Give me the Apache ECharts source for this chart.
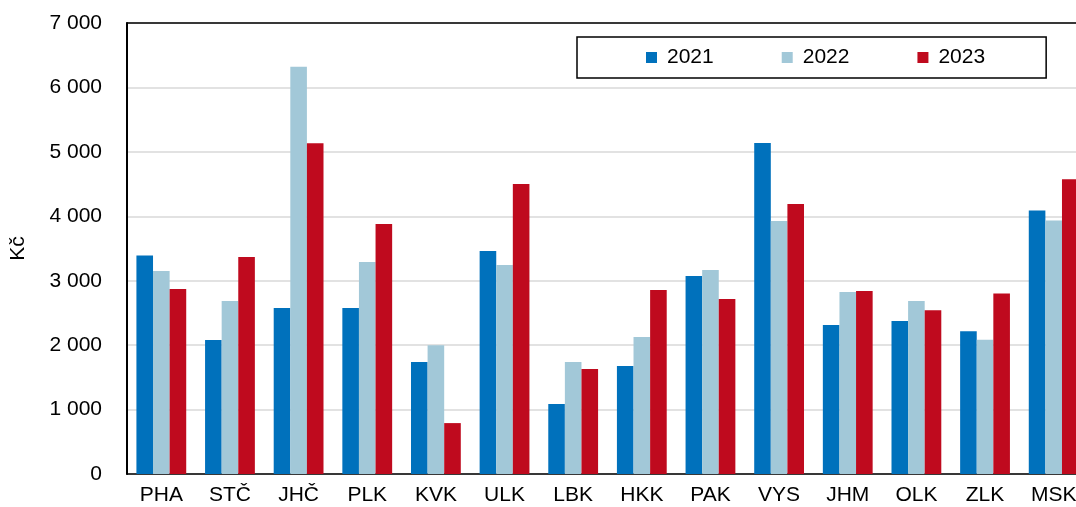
<!DOCTYPE html>
<html><head><meta charset="utf-8">
<script src="https://cdn.jsdelivr.net/npm/echarts@6/dist/echarts.min.js"></script>
<style>html,body{margin:0;padding:0;background:#fff;overflow:hidden}#c{width:1088px;height:507px}</style>
</head><body><div id="c"></div>
<script>
var categories = ['PHA','STČ','JHČ','PLK','KVK','ULK','LBK','HKK','PAK','VYS','JHM','OLK','ZLK','MSK'];
var seriesNames = ['2021','2022','2023'];
var values2021 = [3390, 2080, 2575, 2575, 1738, 3460, 1086, 1676, 3073, 5137, 2313, 2375, 2216, 4088];
var values2022 = [3150, 2685, 6322, 3290, 2000, 3245, 1738, 2126, 3166, 3927, 2825, 2686, 2085, 3933];
var values2023 = [2870, 3370, 5132, 3880, 790, 4500, 1630, 2855, 2716, 4190, 2840, 2542, 2800, 4576];
var colors = ['#0071bc', '#a2c8d8', '#bf0a1e'];
var font = 'Liberation Sans, Arial, sans-serif';
function fmt(v){ return String(v).replace(/\B(?=(\d{3})+(?!\d))/g, ' '); }
var chart = echarts.init(document.getElementById('c'));
var data = [values2021, values2022, values2023];
chart.setOption({
  animation: false,
  color: colors,
  grid: { left: 123, top: 23, bottom: 33, right: 0 },
  legend: {
    left: 577, top: 37, orient: 'horizontal',
    data: seriesNames,
    icon: 'rect', itemWidth: 11, itemHeight: 11, itemGap: 68,
    padding: [10, 61, 10, 69],
    borderColor: '#000', borderWidth: 1.5, backgroundColor: '#fff',
    textStyle: { fontFamily: font, fontSize: 21, color: '#000', padding: [0,0,0,5] }
  },
  xAxis: [{
    type: 'category', data: categories,
    axisLine: { lineStyle: { color: '#000', width: 1.5 } },
    axisTick: { show: false },
    axisLabel: { fontFamily: font, fontSize: 21, color: '#000', margin: 11 }
  }, {
    type: 'category', data: categories, position: 'top',
    axisLine: { show: true, lineStyle: { color: '#000', width: 1.5 } },
    axisTick: { show: false }, axisLabel: { show: false }, splitLine: { show: false }
  }],
  yAxis: {
    type: 'value', min: 0, max: 7000, interval: 1000,
    name: 'Kč', nameLocation: 'middle', nameGap: 98, nameRotate: 90,
    nameTextStyle: { fontFamily: font, fontSize: 21, color: '#000' },
    axisLine: { show: true, lineStyle: { color: '#000', width: 2 } },
    axisTick: { show: false },
    splitLine: { lineStyle: { color: '#d9d9d9', width: 1.5 } },
    axisLabel: { fontFamily: font, fontSize: 21, color: '#000', margin: 25, formatter: fmt }
  },
  series: seriesNames.map(function(n, i){
    return { name: n, type: 'bar', data: data[i], barWidth: 16.6, barGap: '0%', itemStyle: { color: colors[i] } };
  })
});
</script></body></html>
